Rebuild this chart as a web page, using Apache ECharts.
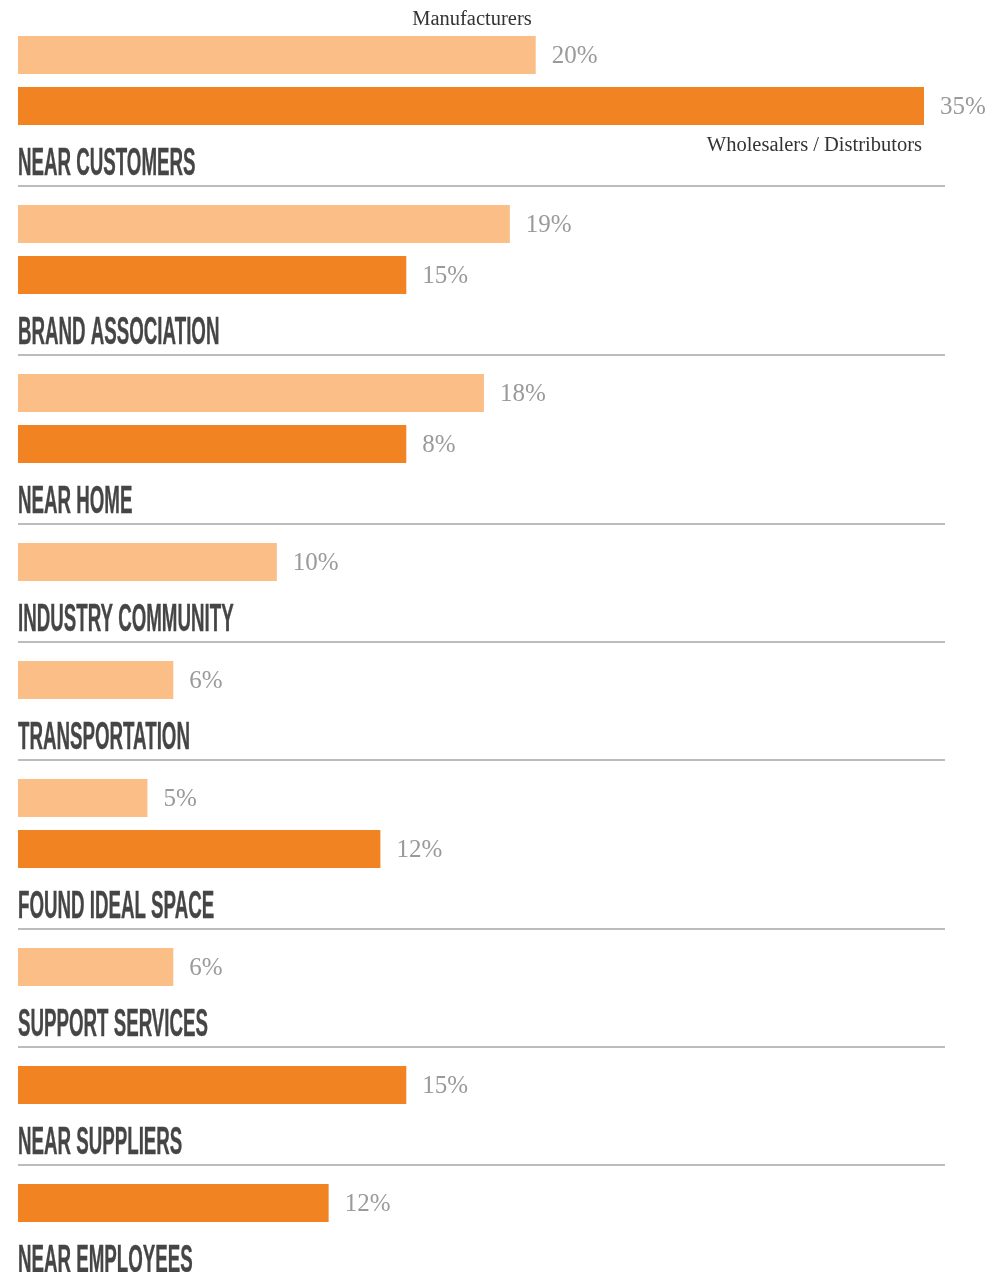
<!DOCTYPE html>
<html><head><meta charset="utf-8">
<script src="https://cdn.jsdelivr.net/npm/echarts@6/dist/echarts.min.js"></script>
<style>html,body{margin:0;padding:0;background:#fff}#c{width:1005px;height:1272px}</style>
</head><body><div id="c"></div>
<script>
// ---- data ----
const categories = ['NEAR CUSTOMERS','BRAND ASSOCIATION','NEAR HOME','INDUSTRY COMMUNITY','TRANSPORTATION','FOUND IDEAL SPACE','SUPPORT SERVICES','NEAR SUPPLIERS','NEAR EMPLOYEES'];
const seriesNames = ['Manufacturers','Wholesalers / Distributors'];
// bar lengths as drawn in the picture
const manufacturers = [20,19,18,10,6,5,6,null,null];
const wholesalers = [35,15,15,null,null,14,null,15,12];
// value labels as printed in the picture
const manufacturersLabels = ['20%','19%','18%','10%','6%','5%','6%',null,null];
const wholesalersLabels = ['35%','15%','8%',null,null,'12%',null,'15%','12%'];
const xMax = 35;

// ---- layout ----
const LEFT=18, PLOT_W=906, BAR_H=38, PITCH=51, GAP_LINE=61, GAP_AFTER=19, LINE_RIGHT=945;
const COLORS=['#FBBE87','#F28322'];
const grids=[], xAxes=[], yAxes=[], series=[], graphics=[];
let y=36;
categories.forEach((cat,i)=>{
  const rows=[];
  [[manufacturers,manufacturersLabels],[wholesalers,wholesalersLabels]].forEach(([vals,labs],k)=>{
    if(vals[i]!=null) rows.push({name:seriesNames[k], value:vals[i], itemStyle:{color:COLORS[k]}, label:{formatter:labs[i]}});
  });
  const n=rows.length;
  grids.push({left:LEFT, top:y-(PITCH-BAR_H)/2, width:PLOT_W, height:n*PITCH});
  xAxes.push({type:'value', gridIndex:i, min:0, max:xMax, show:false});
  yAxes.push({type:'category', gridIndex:i, data:rows.map(r=>r.name), inverse:true, show:false});
  series.push({type:'bar', name:cat, xAxisIndex:i, yAxisIndex:i, barWidth:BAR_H, data:rows, silent:true,
    label:{show:true, position:'right', distance:16, offset:[0,1], fontFamily:'"Liberation Serif", serif', fontSize:25, color:'#9a9a9a'}});
  const barsBottom=y+(n-1)*PITCH+BAR_H;
  const lineY=barsBottom+GAP_LINE;
  graphics.push({type:'text', id:'t'+i, x:LEFT, y:lineY-22, scaleX:0.48, silent:true,
    style:{text:cat, font:'bold 39px "Liberation Sans", Arial, sans-serif', fill:'#454545', stroke:'#454545', lineWidth:0.4, align:'left', verticalAlign:'middle'}});
  graphics.push({type:'line', id:'l'+i, silent:true, shape:{x1:LEFT,y1:lineY,x2:LINE_RIGHT,y2:lineY}, style:{stroke:'#a6a6a6', lineWidth:1.5}});
  y=lineY+GAP_AFTER;
});

const chart = echarts.init(document.getElementById('c'), null, {renderer:'canvas'});
chart.setOption({animation:false, backgroundColor:'#fff', grid:grids, xAxis:xAxes, yAxis:yAxes, series:series});

// series-name annotations next to the first group's bars
const firstTop = grids[0].top + (PITCH-BAR_H)/2;
const mEnd = chart.convertToPixel({xAxisIndex:0}, manufacturers[0]);
const wEnd = chart.convertToPixel({xAxisIndex:0}, wholesalers[0]);
graphics.push({type:'text', id:'am', silent:true, x:mEnd-4, y:firstTop-16,
  style:{text:seriesNames[0], font:'20.5px "Liberation Serif", serif', fill:'#333', align:'right', verticalAlign:'middle'}});
graphics.push({type:'text', id:'aw', silent:true, x:wEnd-2, y:firstTop+PITCH+BAR_H+21,
  style:{text:seriesNames[1], font:'20.5px "Liberation Serif", serif', fill:'#333', align:'right', verticalAlign:'middle'}});
chart.setOption({graphic:{elements:graphics}});
</script>
</body></html>
